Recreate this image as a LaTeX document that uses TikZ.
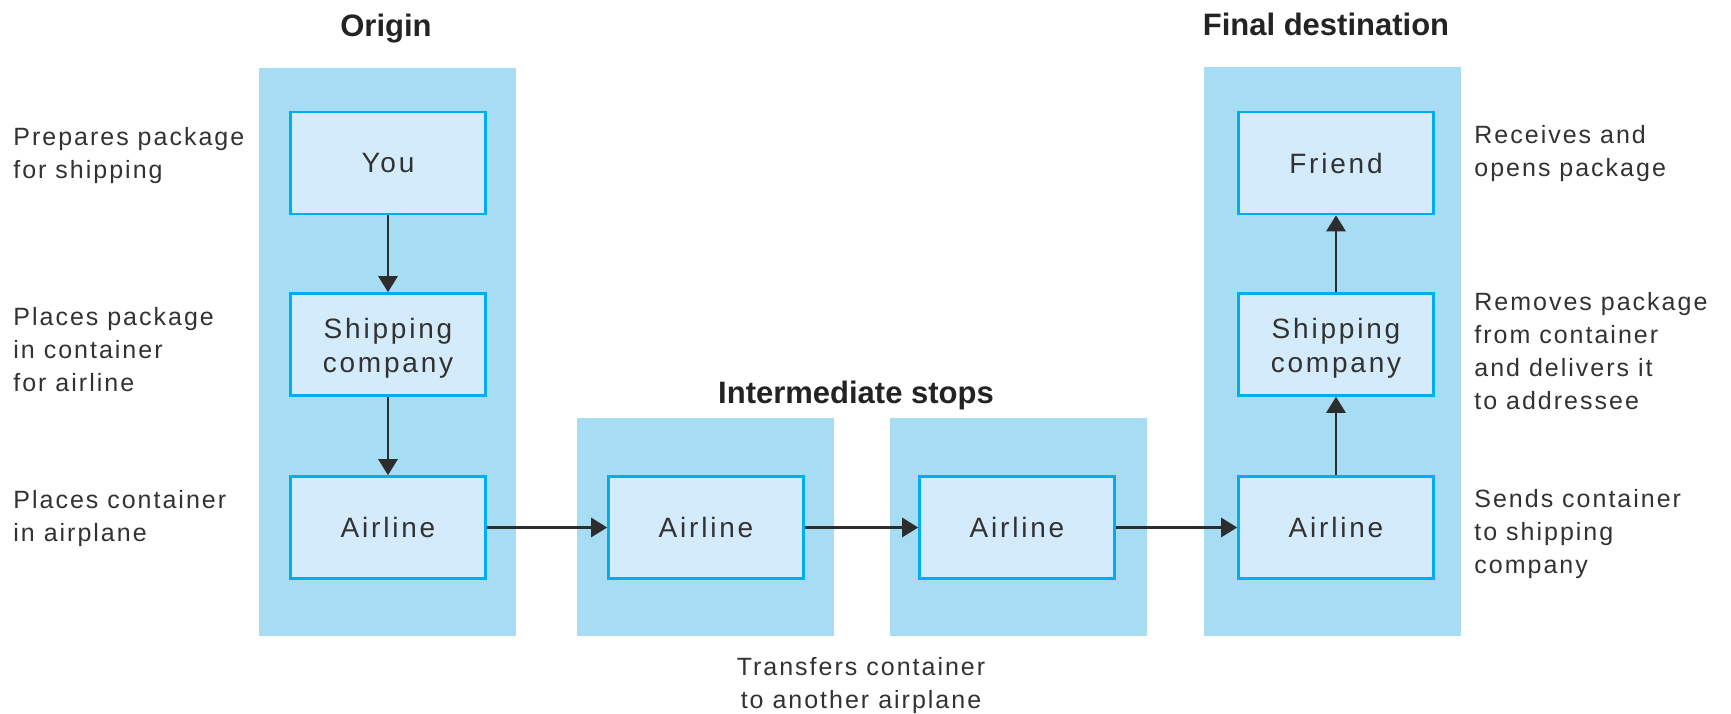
\documentclass[tikz,border=0pt]{standalone}
\usepackage{fontspec}
\setmainfont{Liberation Sans}
\newfontfamily\sidefont{Liberation Sans}[LetterSpace=8]
\newfontfamily\boxfont{Liberation Sans}[LetterSpace=10]
\usetikzlibrary{arrows.meta}
\definecolor{panelblue}{RGB}{167,220,245}
\definecolor{boxfill}{RGB}{211,235,250}
\definecolor{boxline}{RGB}{0,174,239}
\definecolor{txt}{RGB}{50,50,50}
\definecolor{headtxt}{RGB}{35,35,35}
\definecolor{arrowc}{RGB}{45,45,45}
\begin{document}
\begin{tikzpicture}[x=0.5pt,y=-0.5pt,
  panel/.style={fill=panelblue, draw=none, inner sep=0, minimum width=128.5pt},
  stage/.style={draw=boxline, fill=boxfill, line width=1.3pt, minimum width=97.5pt,
    minimum height=51pt, inner sep=0, align=center, text=txt,
    font=\boxfont\fontsize{14pt}{17pt}\selectfont},
  heading/.style={anchor=base, text=headtxt, inner sep=0,
    font=\bfseries\fontsize{15.5pt}{18pt}\selectfont},
  sidenote/.style={anchor=base west, text=txt, inner sep=0,
    font=\sidefont\fontsize{12.5pt}{16.5pt}\selectfont},
  flow/.style={draw=arrowc, line width=1.4pt, -{Triangle[length=8pt,width=9.5pt]}}
]
\useasboundingbox (0,0) rectangle (1731,713);

% panels
\node[panel, minimum height=284pt] (pO) at (387.5,352) {};
\node[panel, minimum height=109pt] (pI1) at (705.5,527) {};
\node[panel, minimum height=109pt] (pI2) at (1018.5,527) {};
\node[panel, minimum height=284.5pt] (pF) at (1332.5,351.5) {};

% boxes
\node[stage] (you) at (388,163) {You};
\node[stage] (ship1) at (388,344.5) {\rule{0pt}{13.5pt}Shipping\\company};
\node[stage] (air1) at (388,527.5) {Airline};
\node[stage] (air2) at (706,527.5) {Airline};
\node[stage] (air3) at (1017,527.5) {Airline};
\node[stage] (air4) at (1336,527.5) {Airline};
\node[stage] (ship2) at (1336,344.5) {\rule{0pt}{13.5pt}Shipping\\company};
\node[stage] (friend) at (1336,163) {Friend};

% connectors
\draw[flow] (you) -- (ship1);
\draw[flow] (ship1) -- (air1);
\draw[flow] (air1) -- (air2);
\draw[flow] (air2) -- (air3);
\draw[flow] (air3) -- (air4);
\draw[flow] (air4) -- (ship2);
\draw[flow] (ship2) -- (friend);

% headings
\node[heading] (tO) at (386,36) {Origin};
\node[heading] (tI) at (856,403) {Intermediate stops};
\node[heading] (tF) at (1326,35) {Final destination};

% notes
\node[sidenote] (n1) at (13,145) {\begin{tabular}[t]{@{}l@{}}Prepares package\\for shipping\end{tabular}};
\node[sidenote] (n2) at (13,325) {\begin{tabular}[t]{@{}l@{}}Places package\\in container\\for airline\end{tabular}};
\node[sidenote] (n3) at (13,508) {\begin{tabular}[t]{@{}l@{}}Places container\\in airplane\end{tabular}};
\node[sidenote] (n4) at (1474,143) {\begin{tabular}[t]{@{}l@{}}Receives and\\opens package\end{tabular}};
\node[sidenote] (n5) at (1474,310) {\begin{tabular}[t]{@{}l@{}}Removes package\\from container\\and delivers it\\to addressee\end{tabular}};
\node[sidenote] (n6) at (1474,507) {\begin{tabular}[t]{@{}l@{}}Sends container\\to shipping\\company\end{tabular}};
\node[sidenote, anchor=base] (n7) at (861,675) {\begin{tabular}[t]{@{}c@{}}Transfers container\\to another airplane\end{tabular}};
\end{tikzpicture}
\end{document}
